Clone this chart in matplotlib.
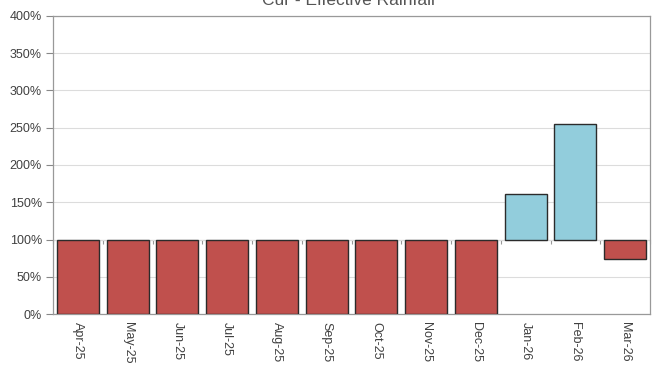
import matplotlib
matplotlib.use("Agg")
import matplotlib.pyplot as plt
import numpy as np

months = ["Apr-25", "May-25", "Jun-25", "Jul-25", "Aug-25", "Sep-25",
          "Oct-25", "Nov-25", "Dec-25", "Jan-26", "Feb-26", "Mar-26"]
ratio_pct = [0, 0, 0, 0, 0, 0, 0, 0, 0, 161, 255, 74]
baseline_pct = 100
y_ticks = [0, 50, 100, 150, 200, 250, 300, 350, 400]

plt.rcParams["font.family"] = ["Liberation Sans", "DejaVu Sans"]

fig = plt.figure(figsize=(6.53, 3.65), dpi=100)
ax = fig.add_axes([0.0812, 0.1397, 0.9142, 0.8165])

x = np.arange(len(months))
vals = np.array(ratio_pct, dtype=float)
heights = vals - baseline_pct
colors = ["#92CDDC" if h > 0 else "#C0504D" for h in heights]
ax.bar(x, heights, bottom=baseline_pct, width=0.84, color=colors,
       edgecolor="#2b2b2b", linewidth=1.0, zorder=3)

ax.set_xlim(-0.5, len(months) - 0.5)
ax.set_ylim(0, 400)
ax.set_yticks(y_ticks)
ax.set_yticklabels([f"{v}%" for v in y_ticks], fontsize=9, color="#404040")
ax.yaxis.grid(True, color="#dcdcdc", linewidth=0.8, zorder=0)
ax.set_axisbelow(True)

ax.set_xticks(x)
ax.set_xticklabels(months, rotation=270, fontsize=9, color="#404040")
ax.tick_params(axis="x", length=0, pad=6)
ax.tick_params(axis="y", length=5, color="#888888", width=0.8, pad=3)

for s in ax.spines.values():
    s.set_color("#999999")
    s.set_linewidth(0.9)

# category axis crossing at 100%
sec = ax.secondary_xaxis(baseline_pct / 400)
sec.set_xticks(np.arange(len(months) + 1) - 0.5)
sec.set_xticklabels([""] * (len(months) + 1))
sec.tick_params(axis="x", direction="out", length=3, color="#999999", width=0.8)
sec.spines["bottom"].set_color("#bbbbbb")
sec.spines["bottom"].set_linewidth(0.8)

fig.text(0.533, 0.986, "Cur - Effective Rainfall", ha="center", va="baseline",
         fontsize=12.5, color="#555555")

fig.savefig("out.png", dpi=100)
